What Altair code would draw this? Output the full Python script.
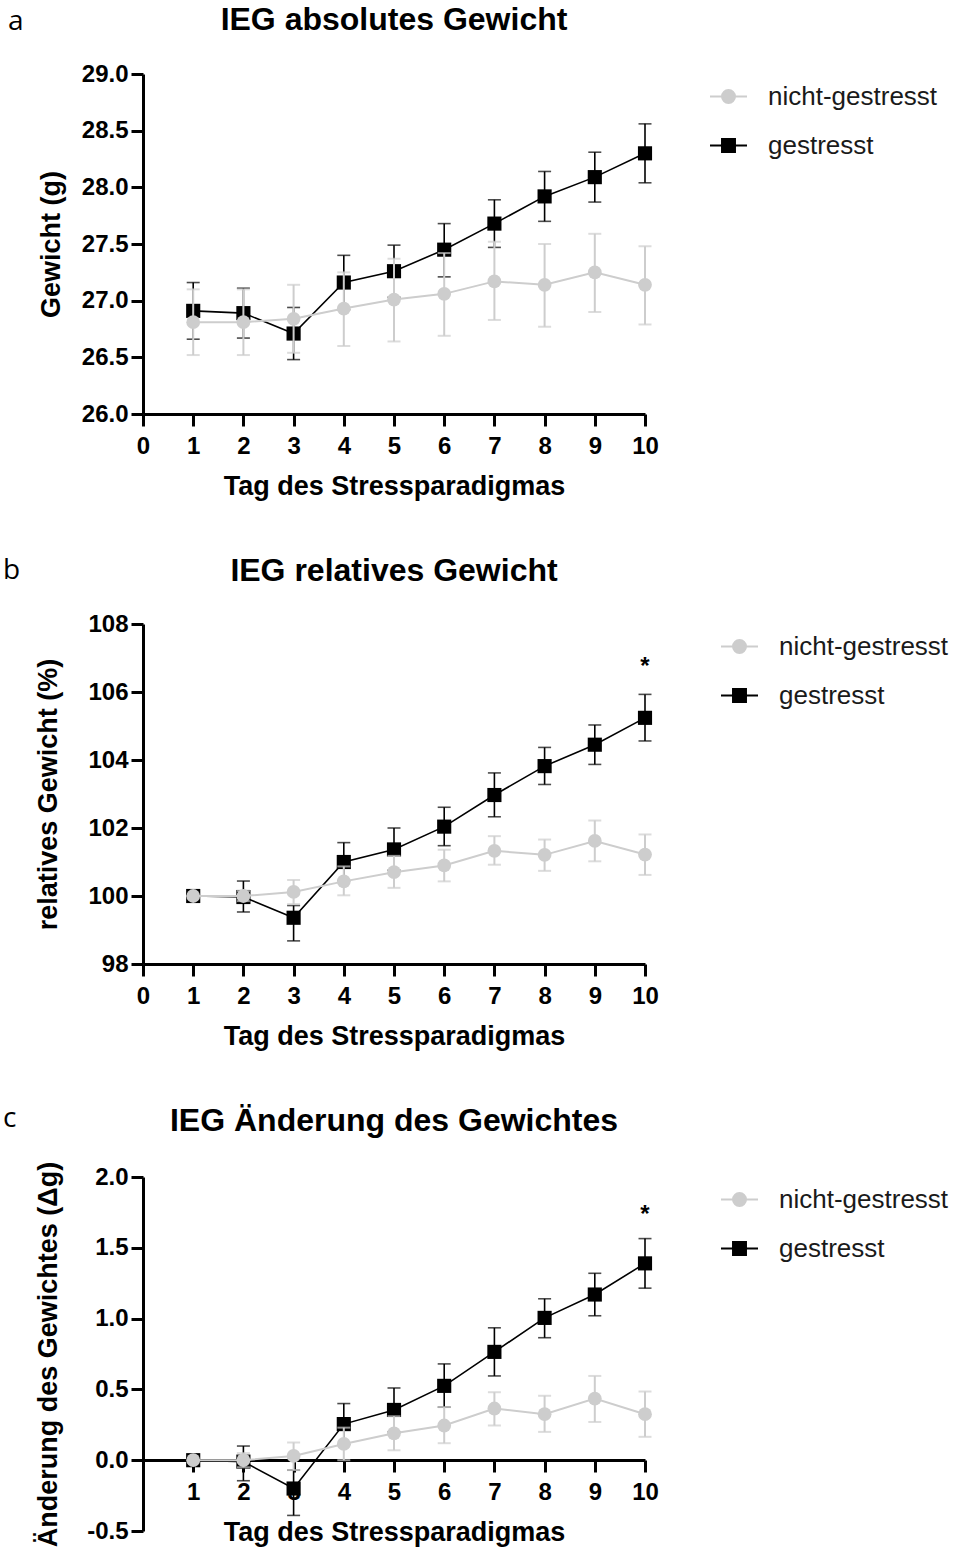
import altair as alt
import pandas as pd

days = list(range(1, 11))
groups = ["nicht-gestresst", "gestresst"]
x_title = "Tag des Stressparadigmas"

# Panel a: absolute weight (g)
a_ctrl_mean = [26.81, 26.81, 26.84, 26.93, 27.01, 27.06, 27.17, 27.14, 27.25, 27.14]
a_ctrl_lo = [26.52, 26.52, 26.54, 26.60, 26.64, 26.69, 26.83, 26.77, 26.90, 26.79]
a_ctrl_hi = [27.10, 27.10, 27.14, 27.25, 27.37, 27.42, 27.52, 27.50, 27.59, 27.48]
a_str_mean = [26.91, 26.89, 26.71, 27.16, 27.26, 27.45, 27.68, 27.92, 28.09, 28.30]
a_str_lo = [26.66, 26.67, 26.48, 26.92, 27.03, 27.21, 27.47, 27.70, 27.87, 28.04]
a_str_hi = [27.16, 27.11, 26.94, 27.40, 27.49, 27.68, 27.89, 28.14, 28.31, 28.56]

# Panel b: relative weight (%)
b_ctrl_mean = [100.0, 100.0, 100.12, 100.43, 100.70, 100.90, 101.33, 101.21, 101.62, 101.22]
b_ctrl_lo = [100.0, 99.85, 99.76, 100.02, 100.24, 100.43, 100.92, 100.74, 101.02, 100.62]
b_ctrl_hi = [100.0, 100.15, 100.47, 100.87, 101.18, 101.36, 101.76, 101.66, 102.22, 101.81]
b_str_mean = [100.0, 99.97, 99.36, 101.0, 101.37, 102.04, 102.97, 103.82, 104.45, 105.24]
b_str_lo = [100.0, 99.53, 98.68, 100.45, 100.76, 101.48, 102.33, 103.28, 103.87, 104.56]
b_str_hi = [100.0, 100.44, 99.72, 101.57, 102.0, 102.61, 103.62, 104.37, 105.03, 105.93]

# Panel c: weight change (delta g)
c_ctrl_mean = [0.0, 0.0, 0.03, 0.115, 0.19, 0.245, 0.365, 0.325, 0.435, 0.325]
c_ctrl_lo = [0.0, -0.05, -0.07, 0.0, 0.07, 0.12, 0.245, 0.2, 0.27, 0.165]
c_ctrl_hi = [0.0, 0.05, 0.125, 0.23, 0.31, 0.375, 0.48, 0.455, 0.595, 0.485]
c_str_mean = [0.0, -0.01, -0.2, 0.255, 0.355, 0.525, 0.765, 1.005, 1.17, 1.39]
c_str_lo = [0.0, -0.145, -0.39, 0.11, 0.2, 0.375, 0.595, 0.865, 1.02, 1.215]
c_str_hi = [0.0, 0.1, -0.07, 0.40, 0.51, 0.68, 0.935, 1.14, 1.32, 1.565]

star_b = 106.75
star_c = 1.73

BOLD = "Liberation Sans, Arial, sans-serif"
REG = "Liberation Sans, Arial, sans-serif"
GREY = "#cdcdcd"
W = 502

SQUARE = "M-1,0H1M-0.35,-0.35H0.35V0.35H-0.35Z"
CIRCLE = "M-1,0H1M0.35,0A0.35,0.35 0 1 1 -0.35,0A0.35,0.35 0 1 1 0.35,0Z"


def make_df(cm, cl, ch, sm, sl, sh):
    rows = []
    for g, m, l, h in [("nicht-gestresst", cm, cl, ch), ("gestresst", sm, sl, sh)]:
        for d, mv, lv, hv in zip(days, m, l, h):
            rows.append({"day": d, "group": g, "mean": mv, "lo": lv, "hi": hv})
    return pd.DataFrame(rows)


def panel(df, height, title, ytitle, ydom, yvals, label, label_x, label_y, title_y,
          legend_x, legend_y, ytitle_pad, star=None, xvals=None, xoffset=0, yfmt=".1f"):
    if xvals is None:
        xvals = list(range(0, 11))
    xaxis = alt.Axis(values=xvals, format="d", title=x_title, offset=xoffset,
                     labelFont=BOLD, labelFontWeight="bold", labelFontSize=24,
                     labelColor="black", labelPadding=8,
                     titleFont=BOLD, titleFontWeight="bold", titleFontSize=27,
                     titleColor="black", titlePadding=15,
                     domainColor="black", domainWidth=3, tickColor="black",
                     tickWidth=3, tickSize=12, grid=False, labelFlush=False)
    yaxis = alt.Axis(values=yvals, title=ytitle,
                     labelExpr=f"datum.value < 0 ? '-' + format(-datum.value, '{yfmt}') : format(datum.value, '{yfmt}')",
                     labelFont=BOLD, labelFontWeight="bold", labelFontSize=24,
                     labelColor="black", labelPadding=3,
                     titleFont=REG, titleFontWeight="bold", titleFontSize=27,
                     titleColor="black", titlePadding=ytitle_pad,
                     domainColor="black", domainWidth=3, tickColor="black",
                     tickWidth=3, tickSize=12, grid=False)
    X = alt.X("day:Q", scale=alt.Scale(domain=[0, 10], nice=False), axis=xaxis)
    yscale = alt.Scale(domain=ydom, nice=False, zero=False)
    # line/marker colours (no legend of their own)
    C = alt.Color("group:N", scale=alt.Scale(domain=groups[::-1], range=["#000000", GREY]),
                  legend=None)
    legend = alt.Legend(
        title=None, orient="none", legendX=legend_x, legendY=legend_y,
        labelFont=REG, labelFontSize=26, labelColor="#1a1a1a", labelOffset=20,
        labelLimit=400, symbolSize=1369, rowPadding=16, symbolStrokeWidth=2,
        symbolOpacity=1)

    layers = []
    for g, shape, size, lw in [("gestresst", "square", 200, 1.6), ("nicht-gestresst", "circle", 190, 2.0)]:
        base = alt.Chart(df).transform_filter(alt.datum.group == g)
        layers.append(base.mark_rule(strokeWidth=lw).encode(
            x=X, y=alt.Y("lo:Q", scale=yscale, axis=yaxis), y2="hi:Q", color=C))
        layers.append(base.mark_tick(orient="horizontal", size=13, thickness=lw).encode(
            x=X, y=alt.Y("hi:Q", scale=yscale, axis=yaxis), color=C))
        layers.append(base.mark_tick(orient="horizontal", size=13, thickness=lw).encode(
            x=X, y=alt.Y("lo:Q", scale=yscale, axis=yaxis), color=C))
        layers.append(base.mark_line(strokeWidth=lw).encode(
            x=X, y=alt.Y("mean:Q", scale=yscale, axis=yaxis), color=C))
        layers.append(base.mark_point(shape=shape, filled=True, size=size, opacity=1).encode(
            x=X, y=alt.Y("mean:Q", scale=yscale, axis=yaxis), color=C))

    # legend carrier layer (points of size 0, so it draws nothing itself)
    layers.append(alt.Chart(df).mark_point(size=0, opacity=1, strokeWidth=2).encode(
        x=X, y=alt.Y("mean:Q", scale=yscale, axis=yaxis),
        fill=alt.Fill("group:N", scale=alt.Scale(domain=groups, range=[GREY, "#000000"]), legend=legend),
        stroke=alt.Stroke("group:N", scale=alt.Scale(domain=groups, range=[GREY, "#000000"]), legend=legend),
        shape=alt.Shape("group:N", scale=alt.Scale(domain=groups, range=[CIRCLE, SQUARE]), legend=legend),
    ))

    ann = pd.DataFrame({"t": [title]})
    layers.append(alt.Chart(ann).mark_text(font=BOLD, fontWeight="bold", fontSize=32,
                                           align="center", baseline="middle", color="black")
                  .encode(x=alt.value(W / 2), y=alt.value(title_y), text="t:N"))
    lab = pd.DataFrame({"t": [label]})
    layers.append(alt.Chart(lab).mark_text(font="Open Sans, Liberation Sans, sans-serif", fontSize=28,
                                           align="left", baseline="middle", color="black")
                  .encode(x=alt.value(label_x), y=alt.value(label_y), text="t:N"))
    if star is not None:
        sdf = pd.DataFrame({"day": [10], "y": [star], "t": ["*"]})
        layers.append(alt.Chart(sdf).mark_text(font=REG, fontSize=24, fontWeight="bold",
                                               baseline="middle", color="black")
                      .encode(x=X, y=alt.Y("y:Q", scale=yscale, axis=yaxis), text="t:N"))
    return alt.layer(*layers).properties(width=W, height=height)


df_a = make_df(a_ctrl_mean, a_ctrl_lo, a_ctrl_hi, a_str_mean, a_str_lo, a_str_hi)
df_b = make_df(b_ctrl_mean, b_ctrl_lo, b_ctrl_hi, b_str_mean, b_str_lo, b_str_hi)
df_c = make_df(c_ctrl_mean, c_ctrl_lo, c_ctrl_hi, c_str_mean, c_str_lo, c_str_hi)

pa = panel(df_a, 340, "IEG absolutes Gewicht", "Gewicht (g)", [26, 29],
           [26.0, 26.5, 27.0, 27.5, 28.0, 28.5, 29.0], "a", -135, -52, -54, 566, 3, 16)
pb = panel(df_b, 340, "IEG relatives Gewicht", "relatives Gewicht (%)", [98, 108],
           [98, 100, 102, 104, 106, 108], "b", -140, -53, -53, 577, 3, 25, star=star_b, yfmt="d")
pc = panel(df_c, 354, "IEG Änderung des Gewichtes", "Änderung des Gewichtes (\u0394g)", [-0.5, 2.0],
           [-0.5, 0.0, 0.5, 1.0, 1.5, 2.0], "c", -140, -58, -56, 577, 3, 24, star=star_c,
           xvals=list(range(1, 11)), xoffset=-round(354 * 0.2))

chart = alt.vconcat(pa, pb, pc, spacing=54).resolve_scale(
    color="independent", fill="independent", stroke="independent", shape="independent"
).properties(
    padding={"left": 2, "top": 3, "right": 5, "bottom": 5}, background="white"
).configure_view(stroke="transparent")

chart.save("out.html", embed_options={"renderer": "svg", "actions": False})
